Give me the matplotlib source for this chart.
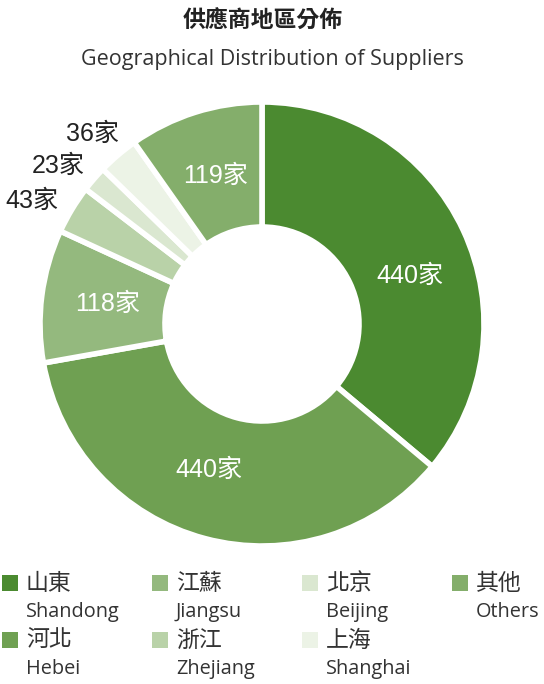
import numpy as np
import matplotlib.pyplot as plt
from matplotlib.patches import Rectangle

# data
regions_cn = ["山東", "河北", "江蘇", "浙江", "北京", "上海", "其他"]
regions_en = ["Shandong", "Hebei", "Jiangsu", "Zhejiang", "Beijing", "Shanghai", "Others"]
counts = [440, 440, 118, 43, 23, 36, 119]
colors = ["#4b8a30", "#6fa052", "#94b97e", "#b9d2a8", "#dae7d0", "#ecf3e6", "#84ae6b"]
inside = [True, True, True, False, False, False, True]
# small angle nudges for the label of each slice (degrees)
label_shift = [-7, -5, 0, 0, -1, -3.5, 0]

cjk = ["Noto Sans CJK TC", "DejaVu Sans"]
lab_font = ["Liberation Sans", "Noto Sans CJK TC"]
leg_font = ["Open Sans", "Noto Sans CJK TC"]

fig = plt.figure(figsize=(5.44, 6.84), dpi=100)
cx0, cy0, R = 262, 324, 222
ax = fig.add_axes([(cx0 - R)/544, 1 - (cy0 + R)/684, 2*R/544, 2*R/684])

wedges, _ = ax.pie(counts, colors=colors, startangle=90, counterclock=False,
                   radius=1.0, wedgeprops=dict(width=0.563, edgecolor="white", linewidth=4))
ax.set_aspect("equal")
ax.set_xlim(-1, 1)
ax.set_ylim(-1, 1)

for w, c, ins, sh in zip(wedges, counts, inside, label_shift):
    ang = np.deg2rad((w.theta1 + w.theta2) / 2 + sh)
    if ins:
        r = 0.70
        ax.text(r*np.cos(ang), r*np.sin(ang), f"{c}家", ha="center", va="center",
                color="white", fontsize=18, family=lab_font)
    else:
        r = 1.07
        ax.text(r*np.cos(ang), r*np.sin(ang), f"{c}家", ha="right", va="center",
                color="#222222", fontsize=18, family=lab_font)

fig.text(263/544, 1 - 21/684, "供應商地區分佈", ha="center", va="center",
         fontsize=16.5, fontweight="bold", family=cjk, color="#222222")
fig.text(272/544, 1 - 60/684, "Geographical Distribution of Suppliers", ha="center", va="center",
         fontsize=15.5, family=leg_font, color="#333333")

# legend, filled column by column (2 rows)
col_x = [2, 152, 302, 452]
row_y = [583, 640]
for i, (cn, en, col) in enumerate(zip(regions_cn, regions_en, colors)):
    cx = col_x[i // 2]
    cy = row_y[i % 2]
    fig.patches.append(Rectangle((cx/544, 1 - (cy + 8)/684), 16/544, 16/684,
                                 transform=fig.transFigure, facecolor=col, edgecolor="none"))
    fig.text((cx + 24)/544, 1 - cy/684, cn, ha="left", va="center",
             fontsize=16.5, family=cjk, color="#333333")
    fig.text((cx + 24)/544, 1 - (cy + 29)/684, en, ha="left", va="center",
             fontsize=14.3, family=leg_font, color="#333333")

fig.savefig("out.png", dpi=100)
